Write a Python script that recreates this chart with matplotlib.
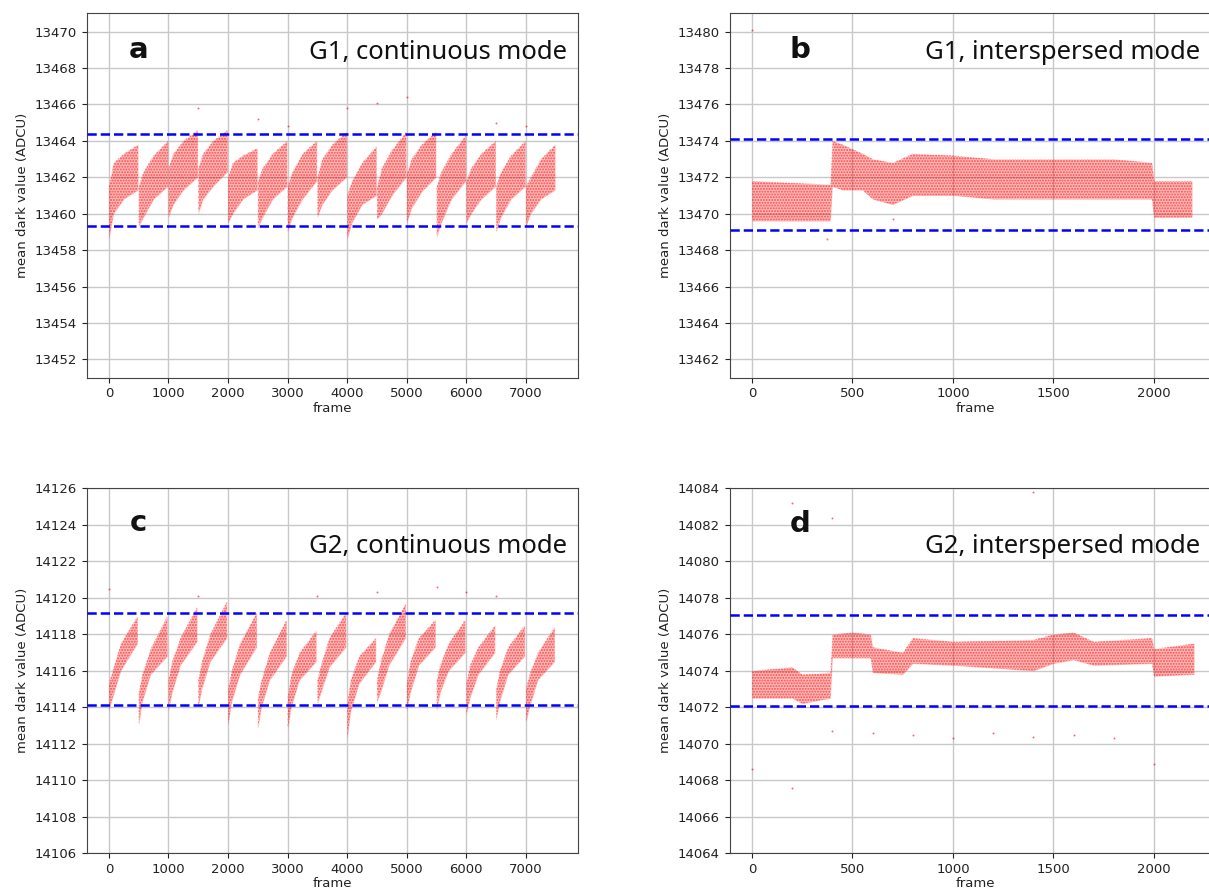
import numpy as np
import matplotlib
matplotlib.use("Agg")
import matplotlib.pyplot as plt

# ---- data ----
# continuous mode: one sawtooth segment every 500 frames, band edges at 4 offsets
seg_starts = [0, 500, 1000, 1500, 2000, 2500, 3000, 3500, 4000, 4500, 5000, 5500, 6000, 6500, 7000]

a_offsets = [0, 80, 250, 490]
a_lo = [[13458.6, 13460.0, 13460.8, 13461.3], [13459.3, 13459.8, 13460.8, 13461.5],
        [13459.8, 13460.5, 13461.3, 13462.0], [13460.0, 13460.8, 13461.5, 13462.3],
        [13459.5, 13460.0, 13460.8, 13461.3], [13459.2, 13459.8, 13460.8, 13461.5],
        [13459.0, 13459.8, 13460.8, 13461.8], [13459.8, 13460.5, 13461.3, 13462.0],
        [13458.6, 13459.5, 13460.5, 13461.0], [13459.7, 13460.0, 13461.0, 13462.0],
        [13459.5, 13460.3, 13461.2, 13462.0], [13458.7, 13459.5, 13460.8, 13461.8],
        [13459.5, 13460.0, 13460.8, 13461.5], [13459.0, 13459.8, 13460.8, 13461.5],
        [13459.3, 13460.0, 13460.8, 13461.3]]
a_hi = [[13461.5, 13462.8, 13463.3, 13463.8], [13461.5, 13462.3, 13463.2, 13464.0],
        [13462.5, 13463.3, 13464.0, 13464.6], [13462.5, 13463.3, 13464.0, 13464.6],
        [13462.0, 13462.8, 13463.2, 13463.6], [13461.8, 13462.5, 13463.3, 13464.0],
        [13461.5, 13462.3, 13463.3, 13464.0], [13462.0, 13463.0, 13463.8, 13464.5],
        [13461.0, 13461.8, 13462.8, 13463.7], [13461.5, 13462.5, 13463.5, 13464.5],
        [13462.2, 13463.0, 13463.8, 13464.5], [13461.5, 13462.3, 13463.3, 13464.3],
        [13461.8, 13462.5, 13463.3, 13464.0], [13461.5, 13462.3, 13463.2, 13464.0],
        [13461.5, 13462.0, 13463.0, 13463.8]]
a_out_x = [1500, 2500, 3000, 4000, 4500, 5000, 6500, 7000]
a_out_y = [13465.8, 13465.2, 13464.8, 13465.8, 13466.1, 13466.4, 13465.0, 13464.8]

c_offsets = [0, 60, 200, 480]
c_lo = [[14113.8, 14114.5, 14116.0, 14117.5], [14113.0, 14114.3, 14115.8, 14116.8],
        [14113.8, 14114.8, 14116.3, 14117.6], [14114.0, 14115.0, 14116.5, 14117.8],
        [14113.0, 14114.3, 14115.8, 14117.3], [14112.8, 14114.0, 14115.5, 14116.8],
        [14112.8, 14114.0, 14115.5, 14116.5], [14114.2, 14114.8, 14116.2, 14117.3],
        [14112.3, 14113.8, 14115.3, 14116.5], [14114.3, 14114.8, 14116.3, 14117.8],
        [14113.8, 14114.8, 14116.3, 14117.3], [14113.8, 14114.8, 14116.0, 14117.0],
        [14113.6, 14114.5, 14115.8, 14117.0], [14113.3, 14114.3, 14115.8, 14116.8],
        [14113.2, 14114.0, 14115.5, 14116.5]]
c_hi = [[14115.3, 14116.0, 14117.5, 14119.0], [14114.8, 14115.8, 14117.2, 14119.0],
        [14115.5, 14116.5, 14117.8, 14119.5], [14115.5, 14116.5, 14118.0, 14119.8],
        [14115.0, 14116.0, 14117.5, 14119.2], [14114.5, 14115.5, 14117.0, 14118.8],
        [14114.5, 14115.8, 14117.0, 14118.2], [14115.5, 14116.3, 14117.8, 14119.2],
        [14114.2, 14115.5, 14116.8, 14117.8], [14115.5, 14116.5, 14118.0, 14119.7],
        [14115.3, 14116.5, 14117.8, 14118.8], [14115.5, 14116.3, 14117.5, 14118.8],
        [14115.3, 14116.3, 14117.3, 14118.5], [14115.0, 14116.0, 14117.3, 14118.5],
        [14115.0, 14115.8, 14117.0, 14118.4]]
c_out_x = [0, 1500, 3500, 4500, 5500, 6000, 6500]
c_out_y = [14120.5, 14120.1, 14120.1, 14120.3, 14120.6, 14120.3, 14120.1]

# interspersed mode: band edges at knots
b_frame = [0, 390, 400, 450, 550, 600, 700, 800, 1000, 1200, 1500, 1800, 1990, 2000, 2190]
b_lo = [13469.6, 13469.6, 13471.5, 13471.3, 13471.3, 13470.8, 13470.5, 13471.0,
        13471.0, 13470.8, 13470.8, 13470.8, 13470.8, 13469.8, 13469.8]
b_hi = [13471.8, 13471.6, 13474.0, 13473.8, 13473.3, 13473.0, 13472.8, 13473.3,
        13473.2, 13473.0, 13473.0, 13473.0, 13472.8, 13471.8, 13471.8]
b_out_x = [0, 375, 700]
b_out_y = [13480.1, 13468.6, 13469.7]

d_frame = [0, 200, 250, 390, 400, 500, 590, 600, 750, 800, 1000, 1400, 1500, 1600, 1700, 1990, 2000, 2200]
d_lo = [14072.5, 14072.5, 14072.2, 14072.5, 14074.7, 14074.7, 14074.7, 14073.9, 14073.8,
        14074.4, 14074.3, 14074.0, 14074.4, 14074.6, 14074.3, 14074.4, 14073.7, 14073.8]
d_hi = [14074.0, 14074.2, 14073.8, 14073.9, 14076.0, 14076.1, 14076.0, 14075.3, 14075.0,
        14075.8, 14075.6, 14075.7, 14076.0, 14076.1, 14075.6, 14075.8, 14075.2, 14075.5]
d_out_x = [0, 200, 200, 400, 400, 600, 800, 1000, 1200, 1400, 1400, 1600, 1800, 2000]
d_out_y = [14068.6, 14067.6, 14083.2, 14082.4, 14070.7, 14070.6, 14070.5, 14070.3,
           14070.6, 14070.4, 14083.8, 14070.5, 14070.3, 14068.9]

# blue dashed limits (upper, lower) and axis ranges
limits = {"a": (13464.35, 13459.35), "b": (13474.1, 13469.1),
          "c": (14119.15, 14114.15), "d": (14077.05, 14072.05)}
ylims = {"a": (13451, 13471), "b": (13461, 13481), "c": (14106, 14126), "d": (14064, 14084)}
titles = {"a": "G1, continuous mode", "b": "G1, interspersed mode",
          "c": "G2, continuous mode", "d": "G2, interspersed mode"}

W, H = 1209, 892
fig = plt.figure(figsize=(W / 100, H / 100), dpi=100)


def box(l, t, r, b):
    return [l / W, 1 - b / H, (r - l) / W, (b - t) / H]


ax_a = fig.add_axes(box(86.5, 13.3, 578, 377.7))
ax_b = fig.add_axes(box(729.7, 13.3, 1221, 377.7))
ax_c = fig.add_axes(box(86.5, 488.3, 578, 853.3))
ax_d = fig.add_axes(box(729.7, 488.3, 1221, 853.3))
axes = {"a": ax_a, "b": ax_b, "c": ax_c, "d": ax_d}


def band(ax, x, lo, hi):
    ax.fill_between(x, lo, hi, color="red", alpha=0.26, lw=0, zorder=2)
    ax.fill_between(x, lo, hi, facecolor="none", edgecolor="red", hatch="......",
                    lw=0, alpha=0.6, zorder=2)


for s, lo, hi in zip(seg_starts, a_lo, a_hi):
    band(ax_a, [s + o for o in a_offsets], lo, hi)
ax_a.scatter(a_out_x, a_out_y, s=2, color="red", alpha=0.6, lw=0, zorder=2)

for s, lo, hi in zip(seg_starts, c_lo, c_hi):
    band(ax_c, [s + o for o in c_offsets], lo, hi)
ax_c.scatter(c_out_x, c_out_y, s=2, color="red", alpha=0.6, lw=0, zorder=2)

band(ax_b, b_frame, b_lo, b_hi)
ax_b.scatter(b_out_x, b_out_y, s=2, color="red", alpha=0.6, lw=0, zorder=2)
band(ax_d, d_frame, d_lo, d_hi)
ax_d.scatter(d_out_x, d_out_y, s=2, color="red", alpha=0.6, lw=0, zorder=2)

for k, ax in axes.items():
    for yv in limits[k]:
        ax.axhline(yv, color="blue", ls="--", lw=1.8, zorder=3)
    ax.set_ylim(*ylims[k])
    ax.set_yticks(np.arange(ylims[k][0] + 1, ylims[k][1], 2) if k in "ab"
                  else np.arange(ylims[k][0], ylims[k][1] + 1, 2))
    ax.grid(True, color="#c8c8c8", lw=1.0, zorder=0)
    ax.set_axisbelow(True)
    ax.tick_params(labelsize=9.5, colors="#222222")
    ax.set_ylabel("mean dark value (ADCU)", fontsize=9.5, color="#222222")
    ax.set_xlabel("frame", fontsize=9.5, color="#222222", labelpad=1)
    for sp in ax.spines.values():
        sp.set_color("#444444")

ax_a.set_xlim(-375, 7875)
ax_c.set_xlim(-375, 7875)
ax_b.set_xlim(-111, 2334)
ax_d.set_xlim(-111, 2334)
for ax in (ax_a, ax_c):
    ax.set_xticks(range(0, 7001, 1000))
for ax in (ax_b, ax_d):
    ax.set_xticks(range(0, 2001, 500))

tfont = dict(family=["Noto Sans", "DejaVu Sans"], fontsize=18.5, color="#111111")
lfont = dict(family=["DejaVu Sans"], fontsize=21, fontweight="bold", color="#111111")
ax_a.text(0.105, 0.877, "a", transform=ax_a.transAxes, ha="center", **lfont)
ax_a.text(0.978, 0.875, titles["a"], transform=ax_a.transAxes, ha="right", **tfont)
ax_c.text(0.105, 0.883, "c", transform=ax_c.transAxes, ha="center", **lfont)
ax_c.text(0.978, 0.823, titles["c"], transform=ax_c.transAxes, ha="right", **tfont)
ax_b.text(0.143, 0.877, "b", transform=ax_b.transAxes, ha="center", **lfont)
ax_b.text(0.397, 0.875, titles["b"], transform=ax_b.transAxes, ha="left", **tfont)
ax_d.text(0.143, 0.88, "d", transform=ax_d.transAxes, ha="center", **lfont)
ax_d.text(0.397, 0.823, titles["d"], transform=ax_d.transAxes, ha="left", **tfont)

fig.savefig("out.png", dpi=100)
